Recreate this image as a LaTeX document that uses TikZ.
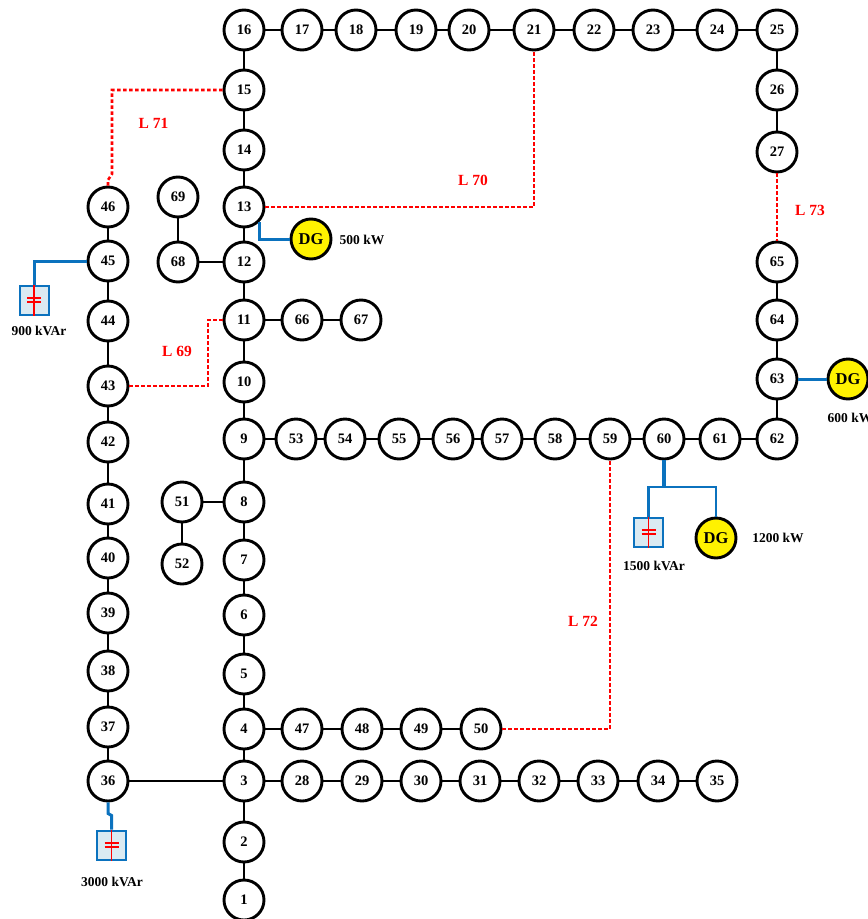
\documentclass[tikz,border=0pt]{standalone}
\usepackage{fontspec}
\setmainfont{Liberation Serif}
\tikzset{
  bus/.style={circle,draw=black,fill=white,line width=2.9pt,minimum size=40pt,inner sep=0pt,font=\fontsize{14.5}{16}\selectfont\bfseries},
  dgen/.style={bus,fill=yellow,font=\fontsize{16.5}{18}\selectfont\bfseries},
  capbox/.style={rectangle,draw=feeder,fill=capfill,line width=2pt,minimum size=29pt,inner sep=0pt},
  busline/.style={line width=2.9pt,draw=black},
  feedline/.style={line width=3pt,draw=feeder,line join=miter},
  tieline/.style={line width=2.6pt,draw=red,dash pattern=on 3.5pt off 2.5pt},
  tielabel/.style={text=red,inner sep=0pt,font=\fontsize{15.5}{17}\selectfont\bfseries},
  ratelabel/.style={inner sep=0pt,font=\fontsize{13.5}{15}\selectfont\bfseries},
}
\definecolor{feeder}{HTML}{0B72BE}
\definecolor{capfill}{HTML}{DAEAF2}
% capacitor symbol inside a capbox node
\newcommand{\capsym}[1]{
  \draw[red,line width=1.5pt] (#1.north) -- (#1.south);
  \draw[red,line width=1.5pt] ([shift={(-7,-1.8)}]#1.center) -- ([shift={(7,-1.8)}]#1.center);
  \draw[red,line width=1.5pt] ([shift={(-7,1.8)}]#1.center) -- ([shift={(7,1.8)}]#1.center);
}
\begin{document}
\begin{tikzpicture}[x=1pt, y=-1pt, line cap=butt]

  %% ════ main feeder 1-16 ════
  \node[bus] (n1) at (244,900) {1};
  \node[bus] (n2) at (244,842) {2};
  \node[bus] (n3) at (244,781) {3};
  \node[bus] (n4) at (244,729) {4};
  \node[bus] (n5) at (244,674) {5};
  \node[bus] (n6) at (244,615) {6};
  \node[bus] (n7) at (244,560) {7};
  \node[bus] (n8) at (244,502) {8};
  \node[bus] (n9) at (244,439) {9};
  \node[bus] (n10) at (244,382) {10};
  \node[bus] (n11) at (244,320) {11};
  \node[bus] (n12) at (244,262) {12};
  \node[bus] (n13) at (244,207) {13};
  \node[bus] (n14) at (244,150) {14};
  \node[bus] (n15) at (244,90) {15};
  \node[bus] (n16) at (244,30) {16};

  %% ════ top row 17-25, right column 26-27 ════
  \node[bus] (n17) at (302,30) {17};
  \node[bus] (n18) at (356,30) {18};
  \node[bus] (n19) at (416,30) {19};
  \node[bus] (n20) at (469,30) {20};
  \node[bus] (n21) at (534,30) {21};
  \node[bus] (n22) at (594,30) {22};
  \node[bus] (n23) at (653,30) {23};
  \node[bus] (n24) at (717,30) {24};
  \node[bus] (n25) at (777,30) {25};
  \node[bus] (n26) at (777,90) {26};
  \node[bus] (n27) at (777,152) {27};

  %% ════ bottom row 28-35 ════
  \node[bus] (n28) at (302,781) {28};
  \node[bus] (n29) at (362,781) {29};
  \node[bus] (n30) at (421,781) {30};
  \node[bus] (n31) at (480,781) {31};
  \node[bus] (n32) at (539,781) {32};
  \node[bus] (n33) at (598,781) {33};
  \node[bus] (n34) at (658,781) {34};
  \node[bus] (n35) at (717,781) {35};

  %% ════ left column 36-46 ════
  \node[bus] (n36) at (108,781) {36};
  \node[bus] (n37) at (108,727) {37};
  \node[bus] (n38) at (108,671) {38};
  \node[bus] (n39) at (108,613) {39};
  \node[bus] (n40) at (108,558) {40};
  \node[bus] (n41) at (108,504) {41};
  \node[bus] (n42) at (108,442) {42};
  \node[bus] (n43) at (108,386) {43};
  \node[bus] (n44) at (108,321) {44};
  \node[bus] (n45) at (108,261) {45};
  \node[bus] (n46) at (108,207) {46};

  %% ════ row 47-50, branch 51-52 ════
  \node[bus] (n47) at (302,729) {47};
  \node[bus] (n48) at (362,729) {48};
  \node[bus] (n49) at (421,729) {49};
  \node[bus] (n50) at (481,729) {50};
  \node[bus] (n51) at (182,502) {51};
  \node[bus] (n52) at (182,564) {52};

  %% ════ middle row 53-62, right column 63-65 ════
  \node[bus] (n53) at (296,439) {53};
  \node[bus] (n54) at (345,439) {54};
  \node[bus] (n55) at (399,439) {55};
  \node[bus] (n56) at (453,439) {56};
  \node[bus] (n57) at (502,439) {57};
  \node[bus] (n58) at (555,439) {58};
  \node[bus] (n59) at (610,439) {59};
  \node[bus] (n60) at (664,439) {60};
  \node[bus] (n61) at (720,439) {61};
  \node[bus] (n62) at (777,439) {62};
  \node[bus] (n63) at (777,379) {63};
  \node[bus] (n64) at (777,320) {64};
  \node[bus] (n65) at (777,262) {65};

  %% ════ branches 66-69 ════
  \node[bus] (n66) at (302,320) {66};
  \node[bus] (n67) at (361,320) {67};
  \node[bus] (n68) at (178,262) {68};
  \node[bus] (n69) at (178,197) {69};

  %% ════ generators and capacitors ════
  \node[dgen] (dg13) at (311,239) {DG};
  \node[dgen] (dg63) at (848,379) {DG};
  \node[dgen] (dg60) at (716,538) {DG};
  \node[capbox] (c45) at (34,300) {};
  \node[capbox] (c60) at (648.5,532) {};
  \node[capbox] (c36) at (111.5,845) {};

  %% ════ lines ════
  \draw[busline] (n1) -- (n2) -- (n3) -- (n4) -- (n5) -- (n6) -- (n7) -- (n8) -- (n9) -- (n10) -- (n11) -- (n12) -- (n13) -- (n14) -- (n15) -- (n16);
  \draw[busline] (n16) -- (n17) -- (n18) -- (n19) -- (n20) -- (n21) -- (n22) -- (n23) -- (n24) -- (n25) -- (n26) -- (n27);
  \draw[busline] (n3) -- (n28) -- (n29) -- (n30) -- (n31) -- (n32) -- (n33) -- (n34) -- (n35);
  \draw[busline] (n3) -- (n36) -- (n37) -- (n38) -- (n39) -- (n40) -- (n41) -- (n42) -- (n43) -- (n44) -- (n45) -- (n46);
  \draw[busline] (n4) -- (n47) -- (n48) -- (n49) -- (n50);
  \draw[busline] (n8) -- (n51) -- (n52);
  \draw[busline] (n9) -- (n53) -- (n54) -- (n55) -- (n56) -- (n57) -- (n58) -- (n59) -- (n60) -- (n61) -- (n62) -- (n63) -- (n64) -- (n65);
  \draw[busline] (n11) -- (n66) -- (n67);
  \draw[busline] (n12) -- (n68) -- (n69);

  %% ════ blue feeders ════
  \draw[feedline] (n13.south east) |- (dg13.west);
  \draw[feedline] (n63.east) -- (dg63.west);
  \draw[feedline] (n45.west) -| (c45.north);
  \draw[feedline] (n36.south) -- ++(0,11) -- ++(3.5,2) |- (c36.north);
  \draw[feedline,line width=3.6pt] (n60.south) -- (664,487);
  \draw[feedline,line width=2.6pt] (c60.north) |- (664,487) -| (dg60.north);

  %% ════ capacitor symbols ════
  \capsym{c45}
  \capsym{c60}
  \capsym{c36}

  %% ════ tie lines ════
  \draw[tieline] (n43.east) -| (208,320) -- (n11.west);
  \draw[tieline] (n13.east) -| (n21.south);
  \draw[tieline] (n15.west) -- (112,90) -- (112,174) -- (108,180) -- (n46.north);
  \draw[tieline] (n50.east) -| (n59.south);
  \draw[tieline] (n27.south) -- (n65.north);

  %% ════ labels ════
  \node[tielabel] (l71) at (153.5,123) {L 71};
  \node[tielabel] (l70) at (473,180) {L 70};
  \node[tielabel] (l73) at (810,210) {L 73};
  \node[tielabel] (l69) at (177,351) {L 69};
  \node[tielabel] (l72) at (583,621) {L 72};
  \node[ratelabel] (r13) at (362,240) {500 kW};
  \node[ratelabel] (r63) at (850,418) {600 kW};
  \node[ratelabel] (r60) at (778,538) {1200 kW};
  \node[ratelabel] (q45) at (39,331) {900 kVAr};
  \node[ratelabel] (q60) at (654,566) {1500 kVAr};
  \node[ratelabel] (q36) at (112,882) {3000 kVAr};

  % fix the canvas to the reference size
  \pgfresetboundingbox
  \path[use as bounding box] (0,0) rectangle (868,919);
\end{tikzpicture}
\end{document}
